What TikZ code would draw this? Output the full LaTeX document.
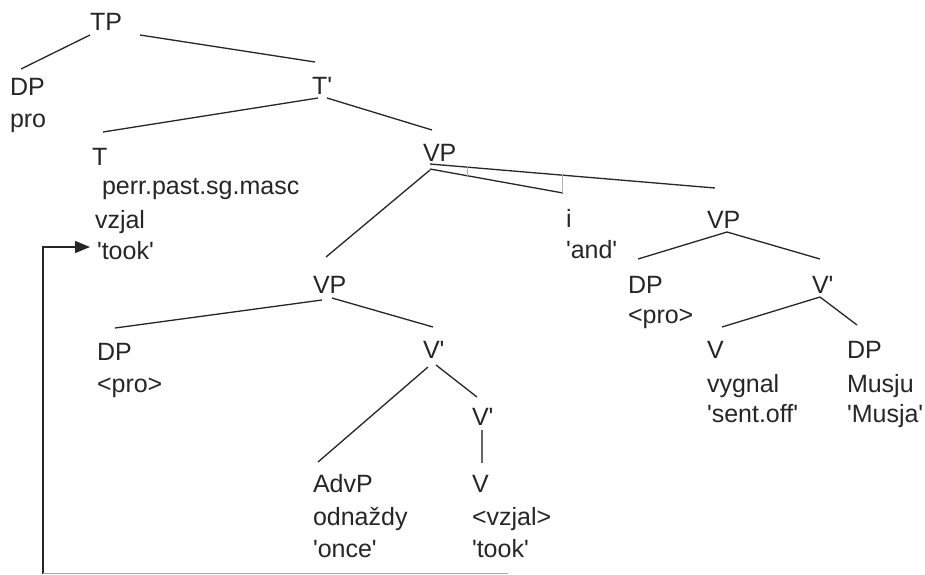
\documentclass[tikz,border=0pt]{standalone}
\usepackage{fontspec}
\setmainfont{Liberation Sans}
\usetikzlibrary{arrows.meta}
\newcommand\qs{\textquotesingle}
\begin{document}
\begin{tikzpicture}[x=1pt,y=-1pt,
  lbl/.style={anchor=base west,inner sep=0pt,outer sep=0pt,text=black!85,font=\fontsize{25}{29}\selectfont},
  edge/.style={line width=1.3pt,draw=black!85},
  faint/.style={line width=1pt,draw=black!30},
  move/.style={line width=1.4pt,draw=black!85}]
\useasboundingbox[fill=white] (0,0) rectangle (925,574);
% labels
\node[lbl] (TP) at (90,30) {TP};
\node[lbl] (DPa) at (10,95) {DP};
\node[lbl] (proa) at (10,127) {pro};
\node[lbl] (Tbar) at (312,94) {T\qs};
\node[lbl] (T) at (92,165) {T};
\node[lbl] (feat) at (102,194) {perr.past.sg.masc};
\node[lbl] (vzjala) at (95,228) {vzjal};
\node[lbl] (tooka) at (97,259) {\qs took\qs};
\node[lbl] (VPa) at (423,161) {VP};
\node[lbl] (i) at (566,227) {i};
\node[lbl] (and) at (566,258) {\qs and\qs};
\node[lbl] (VPr) at (707,228) {VP};
\node[lbl] (DPr) at (628,293) {DP};
\node[lbl] (pror) at (628,323) {<pro>};
\node[lbl] (Vbarr) at (812,293) {V\qs};
\node[lbl] (Vr) at (707,358) {V};
\node[lbl] (vygnal) at (707,392) {vygnal};
\node[lbl] (sentoff) at (707,422) {\qs sent.off\qs};
\node[lbl] (DPm) at (847,358) {DP};
\node[lbl] (musju) at (847,392) {Musju};
\node[lbl] (musja) at (847,422) {\qs Musja\qs};
\node[lbl] (VPl) at (313,293) {VP};
\node[lbl] (DPl) at (97,360) {DP};
\node[lbl] (prol) at (97,392) {<pro>};
\node[lbl] (Vbara) at (423,358) {V\qs};
\node[lbl] (Vbarb) at (472,425) {V\qs};
\node[lbl] (AdvP) at (313,492) {AdvP};
\node[lbl] (odn) at (313,525) {odnaždy};
\node[lbl] (once) at (313,557) {\qs once\qs};
\node[lbl] (Vl) at (472,492) {V};
\node[lbl] (vzjalb) at (472,525) {<vzjal>};
\node[lbl] (tookb) at (472,557) {\qs took\qs};
% line end points
\coordinate (tp1) at (90,35);   \coordinate (dpa1) at (21,69);
\coordinate (tp2) at (140,35);  \coordinate (tbar1) at (315,62);
\coordinate (tbar2) at (318,98); \coordinate (t1) at (103,132);
\coordinate (tbar3) at (327,98); \coordinate (vpa1) at (432,130);
\coordinate (vpa2) at (430,170); \coordinate (vpl1) at (326,257);
\coordinate (vpa3) at (430,169); \coordinate (i1) at (563,193);
\coordinate (vpa4) at (430,164); \coordinate (vpr1) at (715,188);
\coordinate (tka) at (467,167); \coordinate (tkb) at (467,176);
\coordinate (tkc) at (562,175); \coordinate (tkd) at (562,193);
\coordinate (vpl2) at (322,300); \coordinate (dpl1) at (115,328);
\coordinate (vpl3) at (332,298); \coordinate (vbara1) at (433,327);
\coordinate (vbara2) at (428,367); \coordinate (advp1) at (318,462);
\coordinate (vbara3) at (436,365); \coordinate (vbarb1) at (477,397);
\coordinate (vbarb2) at (482,430); \coordinate (vl1) at (482,463);
\coordinate (vpr2) at (727,232); \coordinate (dpr1) at (638,259);
\coordinate (vbarr1) at (820,259);
\coordinate (vbarr2) at (820,297); \coordinate (vr1) at (722,327);
\coordinate (dpm1) at (857,325);
\coordinate (mvA) at (43,574); \coordinate (mvB) at (43,247);
\coordinate (mvC) at (90,247); \coordinate (btA) at (43,573); \coordinate (btB) at (508,573);
% tree edges
\draw[edge] (tp1) -- (dpa1);
\draw[edge] (tp2) -- (tbar1);
\draw[edge] (tbar2) -- (t1);
\draw[edge] (tbar3) -- (vpa1);
\draw[edge] (vpa2) -- (vpl1);
\draw[edge] (vpa3) -- (i1);
\draw[edge] (vpa4) -- (vpr1);
\draw[faint] (tka) -- (tkb);
\draw[faint] (tkc) -- (tkd);
\draw[edge] (vpl2) -- (dpl1);
\draw[edge] (vpl3) -- (vbara1);
\draw[edge] (vbara2) -- (advp1);
\draw[edge] (vbara3) -- (vbarb1);
\draw[edge,draw=black!60] (vbarb2) -- (vl1);
\draw[edge] (vpr2) -- (dpr1);
\draw[edge] (vpr2) -- (vbarr1);
\draw[edge] (vbarr2) -- (vr1);
\draw[edge] (vbarr2) -- (dpm1);
% movement arrow
\draw[move,-{Triangle[length=15pt,width=12pt]}] (mvA) -- (mvB) -- (mvC);
\draw[line width=1pt,draw=black!35] (btA) -- (btB);
\end{tikzpicture}
\end{document}
